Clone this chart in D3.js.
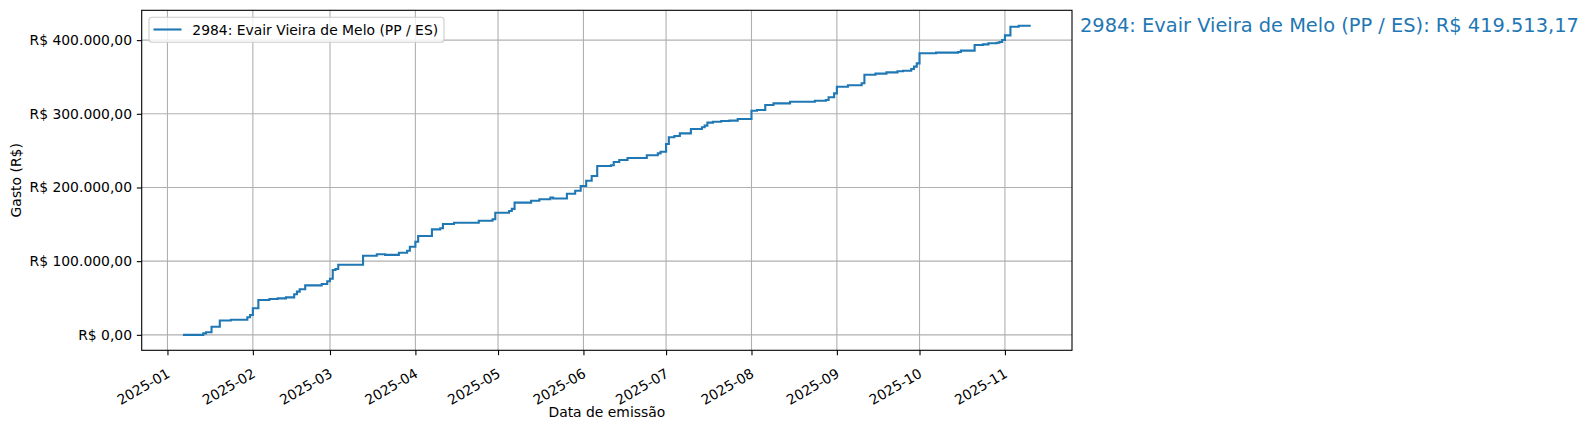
<!DOCTYPE html>
<html>
<head>
<meta charset="utf-8">
<script src="https://cdn.jsdelivr.net/npm/d3@7"></script>
<style>
  html, body { margin: 0; padding: 0; background: #fff; }
  svg { display: block; font-family: "DejaVu Sans", sans-serif; }
</style>
</head>
<body>
<svg id="chart" width="1590" height="430"></svg>
<script>
// ---- data ----
const seriesLabel = "2984: Evair Vieira de Melo (PP / ES)";
const finalLabel = "R$ 419.513,17";
const dates = [
  "2025-01-07","2025-01-14","2025-01-15","2025-01-17","2025-01-20","2025-01-24","2025-01-30","2025-01-31",
  "2025-02-01","2025-02-03","2025-02-07","2025-02-10","2025-02-13","2025-02-16","2025-02-17","2025-02-18",
  "2025-02-20","2025-02-26","2025-02-28","2025-03-01","2025-03-02","2025-03-03","2025-03-04","2025-03-13",
  "2025-03-18","2025-03-21","2025-03-26","2025-03-29","2025-03-30","2025-04-01","2025-04-02","2025-04-07",
  "2025-04-10","2025-04-11","2025-04-15","2025-04-24","2025-04-29","2025-04-30","2025-05-05","2025-05-06",
  "2025-05-07","2025-05-13","2025-05-16","2025-05-20","2025-05-21","2025-05-26","2025-05-29","2025-05-31",
  "2025-06-02","2025-06-04","2025-06-06","2025-06-11","2025-06-12","2025-06-14","2025-06-17","2025-06-24",
  "2025-06-28","2025-06-29","2025-07-01","2025-07-02","2025-07-04","2025-07-06","2025-07-10","2025-07-14",
  "2025-07-15","2025-07-16","2025-07-18","2025-07-21","2025-07-24","2025-07-27","2025-08-01","2025-08-03",
  "2025-08-06","2025-08-09","2025-08-15","2025-08-24","2025-08-28","2025-08-29","2025-08-31","2025-09-01",
  "2025-09-05","2025-09-10","2025-09-11","2025-09-15","2025-09-19","2025-09-23","2025-09-25","2025-09-28",
  "2025-09-29","2025-09-30","2025-10-01","2025-10-07","2025-10-15","2025-10-16","2025-10-21","2025-10-24",
  "2025-10-26","2025-10-29","2025-10-30","2025-10-31","2025-11-01","2025-11-03","2025-11-06","2025-11-10"
];
const totals = [
  0, 2000, 3500, 11000, 19500, 20500, 23800, 27000,
  36000, 47300, 48600, 49500, 50900, 55000, 58600, 61800,
  67200, 69000, 72700, 76200, 88000, 89400, 95200, 107400,
  109300, 108600, 111500, 114200, 119600, 126400, 134200, 143200,
  144600, 150400, 152200, 154900, 156800, 165800, 168000, 171000,
  179400, 182100, 184000, 186300, 185000, 191600, 195600, 202000,
  209200, 215600, 229200, 230100, 234600, 237300, 240000, 243700,
  246300, 248600, 259000, 268100, 269900, 273500, 279400, 281700,
  283900, 288000, 289300, 290200, 290800, 293000, 304200, 305200,
  311900, 314200, 316400, 317800, 318700, 322400, 327800, 336800,
  338700, 341400, 353000, 354500, 356300, 357700, 358500, 360800,
  364000, 368500, 382100, 383000, 383900, 385700, 393400, 394300,
  395700, 396500, 397500, 400200, 406500, 418200, 419513.17, 419513.17
];
const yTicks = [0, 100000, 200000, 300000, 400000];
const xTickMonths = ["2025-01","2025-02","2025-03","2025-04","2025-05","2025-06","2025-07","2025-08","2025-09","2025-10","2025-11"];
const xAxisTitle = "Data de emissão";
const yAxisTitle = "Gasto (R$)";

// ---- layout ----
const color = "#1f77b4";
const L = 141.7, R = 1072, T = 10.3, B = 350.3;
const parse = d3.utcParse("%Y-%m-%d");
const parseM = d3.utcParse("%Y-%m");
const data = dates.map((d, i) => ({ date: parse(d), value: totals[i] }));

const xExt = d3.extent(data, d => d.date);
const span = xExt[1] - xExt[0];
const x = d3.scaleUtc()
  .domain([new Date(+xExt[0] - span * 0.05), new Date(+xExt[1] + span * 0.05)])
  .range([L, R]);
const yMax = d3.max(totals), yMin = 0;
const yPad = (yMax - yMin) * 0.05;
const y = d3.scaleLinear().domain([yMin - yPad, yMax + yPad]).range([B, T]);

const svg = d3.select("#chart");

// grid
const grid = svg.append("g").attr("stroke", "#b0b0b0").attr("stroke-width", 1.1);
xTickMonths.forEach(m => {
  const px = x(parseM(m));
  grid.append("line").attr("x1", px).attr("x2", px).attr("y1", T).attr("y2", B);
});
yTicks.forEach(v => {
  grid.append("line").attr("x1", L).attr("x2", R).attr("y1", y(v)).attr("y2", y(v));
});

// line
const line = d3.line().x(d => x(d.date)).y(d => y(d.value)).curve(d3.curveStepAfter);
svg.append("path").datum(data)
  .attr("d", line).attr("fill", "none").attr("stroke", color)
  .attr("stroke-width", 2.1).attr("stroke-linejoin", "miter").attr("stroke-linecap", "square");

// spines
svg.append("rect").attr("x", L).attr("y", T).attr("width", R - L).attr("height", B - T)
  .attr("fill", "none").attr("stroke", "#000").attr("stroke-width", 1.1);

// y axis
const fmtBR = d3.formatLocale({ decimal: ",", thousands: ".", grouping: [3], currency: ["R$ ", ""] }).format("$,.2f");
const yAxis = d3.axisLeft(y).tickValues(yTicks).tickSize(4.86).tickPadding(4.86).tickFormat(fmtBR);
const gy = svg.append("g").attr("transform", `translate(${L},0)`).call(yAxis);
gy.select(".domain").remove();
gy.selectAll(".tick line").attr("stroke", "#000").attr("stroke-width", 1.1);
gy.selectAll(".tick text").attr("font-family", "DejaVu Sans").attr("font-size", 13.9).attr("fill", "#000");

// x axis
const xAxis = d3.axisBottom(x).tickValues(xTickMonths.map(parseM)).tickSize(4.86).tickFormat(d3.utcFormat("%Y-%m"));
const gx = svg.append("g").attr("transform", `translate(0,${B})`).call(xAxis);
gx.select(".domain").remove();
gx.selectAll(".tick line").attr("stroke", "#000").attr("stroke-width", 1.1);
gx.selectAll(".tick text")
  .attr("font-family", "DejaVu Sans").attr("font-size", 13.9).attr("fill", "#000")
  .attr("text-anchor", "end").attr("dy", null).attr("y", null)
  .attr("transform", "translate(3,26) rotate(-30)");

// axis titles
svg.append("text").attr("x", (L + R) / 2).attr("y", 417.3).attr("text-anchor", "middle")
  .attr("font-size", 13.9).attr("fill", "#000").text(xAxisTitle);
svg.append("text").attr("transform", `translate(20.8,${(T + B) / 2}) rotate(-90)`)
  .attr("text-anchor", "middle").attr("font-size", 13.9).attr("fill", "#000").text(yAxisTitle);

// legend
const lg = svg.append("g");
lg.append("rect").attr("x", 149).attr("y", 17.3).attr("width", 295).attr("height", 25).attr("rx", 3)
  .attr("fill", "#fff").attr("fill-opacity", 0.8).attr("stroke", "#cccccc").attr("stroke-width", 1.1);
lg.append("line").attr("x1", 153.5).attr("x2", 181.5).attr("y1", 29.5).attr("y2", 29.5)
  .attr("stroke", color).attr("stroke-width", 2.1);
lg.append("text").attr("x", 192.3).attr("y", 34.5).attr("font-size", 13.9).attr("fill", "#000").text(seriesLabel);

// end annotation
svg.append("text").attr("x", 1080).attr("y", 31.7).attr("font-size", 19.4).attr("fill", color)
  .text(`${seriesLabel}: ${finalLabel}`);
</script>
</body>
</html>
